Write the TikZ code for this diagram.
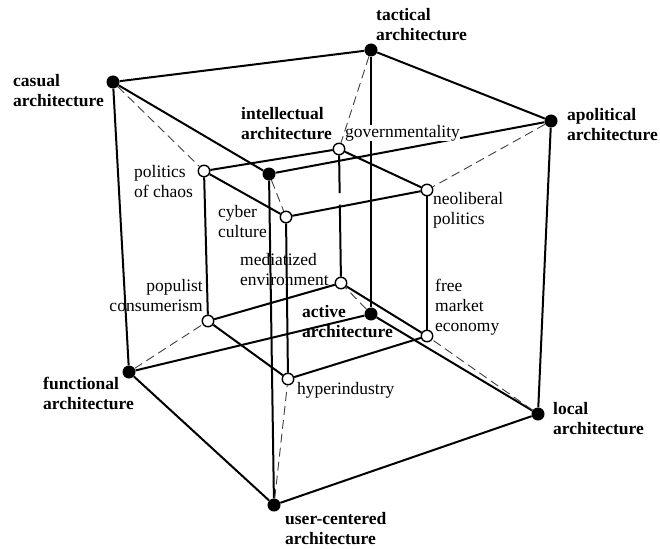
\documentclass[tikz,border=0pt]{standalone}
\usepackage{fontspec}
\setmainfont{Liberation Serif}
\usetikzlibrary{calc}
\begin{document}
\begin{tikzpicture}[x=1pt,y=-1pt,
  edge/.style={line width=2pt},
  link/.style={line width=0.9pt, dash pattern=on 9pt off 5pt, black!75},
  outer/.style={circle, fill=black, minimum size=13pt, inner sep=0pt},
  inner/.style={circle, draw=black, fill=white, line width=1.4pt, minimum size=11.5pt, inner sep=0pt},
  boldlbl/.style={font=\fontsize{17.5}{20}\selectfont\bfseries, align=left, inner sep=0pt, anchor=north west},
  lbl/.style={font=\fontsize{17.5}{20}\selectfont, align=left, inner sep=0pt, anchor=north west},
]
\useasboundingbox[fill=white] (0,0) rectangle (660,548);

% outer cube vertices
\node[outer] (casual) at (113,82) {};
\node[outer] (tactical) at (371,50) {};
\node[outer] (apolitical) at (551,121) {};
\node[outer] (intellectual) at (269,174) {};
\node[outer] (functional) at (129,372) {};
\node[outer] (active) at (371,314) {};
\node[outer] (local) at (538,414) {};
\node[outer] (usercentered) at (274,505) {};

% inner cube vertices
\node[inner] (politics) at (204,171) {};
\node[inner] (govern) at (339,149) {};
\node[inner] (cyber) at (286,217) {};
\node[inner] (neolib) at (427,190) {};
\node[inner] (populist) at (208,321) {};
\node[inner] (mediatized) at (341,283) {};
\node[inner] (hyper) at (288,379) {};
\node[inner] (freemarket) at (427,336) {};

% outer cube edges
\draw[edge] (casual) -- (tactical);
\draw[edge] (tactical) -- (apolitical);
\draw[edge] (casual) -- (intellectual);
\draw[edge] (intellectual) -- (apolitical);
\draw[edge] (casual) -- (functional);
\draw[edge] (tactical) -- (active);
\draw[edge] (apolitical) -- (local);
\draw[edge] (intellectual) -- (usercentered);
\draw[edge] (functional) -- (active);
\draw[edge] (active) -- (local);
\draw[edge] (functional) -- (usercentered);
\draw[edge] (usercentered) -- (local);

% inner cube edges
\draw[edge] (politics) -- (govern);
\draw[edge] (politics) -- (cyber);
\draw[edge] (govern) -- (neolib);
\draw[edge] (cyber) -- (neolib);
\draw[edge] (politics) -- (populist);
\draw[edge] (cyber) -- (hyper);
\draw[edge] (govern) -- ($(govern)!0.33!(mediatized)$);
\draw[edge] ($(govern)!0.415!(mediatized)$) -- (mediatized);
\draw[edge] (neolib) -- (freemarket);
\draw[edge] (populist) -- (mediatized);
\draw[edge] (populist) -- (hyper);
\draw[edge] (mediatized) -- (freemarket);
\draw[edge] (hyper) -- (freemarket);

% label with white background
\node[lbl, fill=white] (lgov) at (345,125) {governmentality};

% dashed links outer -> inner
\draw[link] (casual) -- (politics);
\draw[link] (tactical) -- (govern);
\draw[link] (apolitical) -- (neolib);
\draw[link] (intellectual) -- (cyber);
\draw[link] (functional) -- (populist);
\draw[link] (active) -- (mediatized);
\draw[link] (local) -- (freemarket);
\draw[link] (usercentered) -- (hyper);

% labels
\node[boldlbl] (lcasual) at (13,74) {casual\\architecture};
\node[boldlbl] (ltactical) at (376,8) {tactical\\architecture};
\node[boldlbl] (lapolitical) at (567,108) {apolitical\\architecture};
\node[boldlbl] (lintellectual) at (241,107) {intellectual\\architecture};
\node[boldlbl] (lfunctional) at (43,377) {functional\\architecture};
\node[boldlbl] (lactive) at (302,305) {active\\architecture};
\node[boldlbl] (llocal) at (553,402) {local\\architecture};
\node[boldlbl] (luser) at (285,512) {user-centered\\architecture};

\node[lbl] (lpolitics) at (134,165) {politics\\of chaos};
\node[lbl] (lcyber) at (218,205) {cyber\\culture};
\node[lbl] (lmedia) at (240,253) {mediatized\\environment};
\node[lbl, align=right, anchor=north east] (lpopulist) at (203,279) {populist\\consumerism};
\node[lbl] (lneolib) at (433,192) {neoliberal\\politics};
\node[lbl] (lfree) at (435,279) {free\\market\\economy};
\node[lbl] (lhyper) at (297,382) {hyperindustry};
\end{tikzpicture}
\end{document}
